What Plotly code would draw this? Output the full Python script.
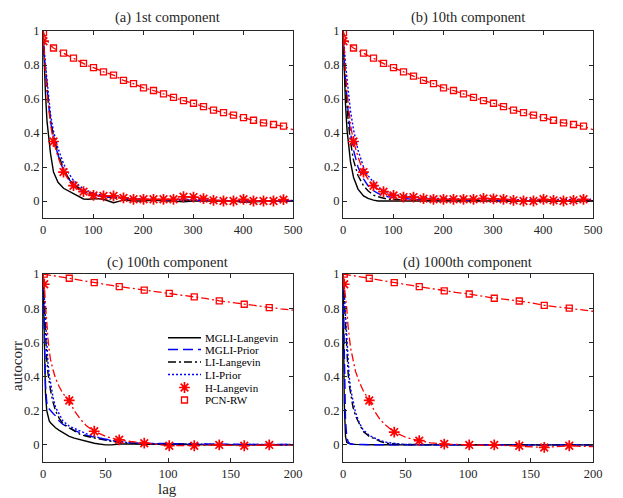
import plotly.graph_objects as go
from plotly.subplots import make_subplots

# ---------------- data ----------------
lags_top = [0, 1, 3, 5, 8, 11, 15, 21, 30, 41, 50, 61, 70, 81, 90, 101, 110, 121, 141, 161, 181,
            201, 221, 241, 261, 281, 301, 321, 341, 361, 381, 401, 421, 441, 461, 481, 500]
lags_bot = [0, 1, 2, 3, 4, 5, 6, 8, 10, 13, 16, 21, 25, 30, 35, 41, 45, 50, 55, 61, 70, 81, 90,
            101, 110, 121, 130, 141, 150, 161, 170, 181, 190, 200]
markers_top = list(range(1, 482, 20))
markers_bot = list(range(1, 182, 20))

# (a) 1st component
a_mgli_lang = [1, 0.9, 0.75, 0.63, 0.47, 0.38, 0.28, 0.17, 0.11, 0.075, 0.06, 0.045, 0.03, 0.012, 0.01, 0.012,
               0.014, 0.01, -0.01, 0.005, 0.0, 0.0, 0.005, 0.0, 0.0, -0.005, 0.0, 0.0, 0.0, -0.003, 0.0,
               -0.008, -0.005, 0.0, 0.0, 0.002, 0.0]
a_mgli_prior = [1, 0.92, 0.84, 0.77, 0.66, 0.57, 0.47, 0.37, 0.27, 0.18, 0.135, 0.095, 0.075, 0.055, 0.045,
                0.035, 0.03, 0.025, 0.018, 0.013, 0.01, 0.008, 0.006, 0.005, 0.005, 0.004, 0.003, 0.003,
                0.002, 0.0, 0.0, 0.0, 0.0, 0.0, 0.0, 0.0, 0.0]
a_li_lang = [1, 0.93, 0.85, 0.78, 0.67, 0.58, 0.48, 0.38, 0.28, 0.19, 0.14, 0.1, 0.08, 0.06, 0.05, 0.04,
             0.035, 0.03, 0.02, 0.015, 0.01, 0.008, 0.006, 0.005, 0.005, 0.004, 0.004, 0.003, 0.002, 0.0,
             0.0, 0.0, 0.0, -0.002, 0.0, 0.0, 0.0]
a_li_prior = [1, 0.94, 0.87, 0.8, 0.7, 0.61, 0.51, 0.41, 0.31, 0.22, 0.17, 0.12, 0.095, 0.07, 0.06, 0.045,
              0.04, 0.03, 0.025, 0.02, 0.015, 0.01, 0.01, 0.008, 0.008, 0.01, 0.008, 0.005, 0.004, 0.002,
              0.0, 0.0, 0.0, 0.0, 0.002, 0.003, 0.003]
a_h_lang = [1, 0.94, 0.85, 0.76, 0.64, 0.54, 0.45, 0.35, 0.26, 0.17, 0.13, 0.09, 0.07, 0.055, 0.042, 0.033,
            0.03, 0.03, 0.03, 0.018, 0.01, 0.01, 0.01, 0.01, 0.01, 0.025, 0.023, 0.014, 0.004, 0.0, 0.0,
            0.01, 0.0, 0.0, 0.0, 0.008, 0.0]
a_pcn = [1.0, 0.99, 0.97, 0.96, 0.945, 0.93, 0.915, 0.9, 0.885, 0.87, 0.855, 0.84, 0.825, 0.81, 0.795,
         0.785, 0.772, 0.76, 0.74, 0.71, 0.69, 0.665, 0.65, 0.63, 0.61, 0.59, 0.575, 0.555, 0.535, 0.52,
         0.505, 0.49, 0.475, 0.46, 0.45, 0.44, 0.42]

# (b) 10th component
b_mgli_lang = [1, 0.88, 0.7, 0.57, 0.42, 0.32, 0.23, 0.14, 0.07, 0.03, 0.015, 0.005, 0.0, 0.0, 0.0, 0.0,
               0.0, 0.0, 0.0, 0.0, 0.0, 0.0, 0.0, 0.0, 0.0, 0.0, 0.0, 0.0, 0.0, 0.0, 0.0, 0.0, 0.0, 0.0,
               0.0, 0.0, 0.0]
b_mgli_prior = [1, 0.91, 0.8, 0.71, 0.59, 0.5, 0.4, 0.3, 0.2, 0.13, 0.09, 0.06, 0.045, 0.03, 0.025, 0.02,
                0.018, 0.015, 0.01, 0.008, 0.006, 0.005, 0.005, 0.004, 0.004, 0.003, 0.003, 0.002, 0.002,
                0.0, 0.0, 0.0, 0.0, 0.0, 0.0, 0.0, 0.0]
b_li_lang = [1, 0.9, 0.78, 0.68, 0.55, 0.45, 0.35, 0.24, 0.15, 0.09, 0.06, 0.035, 0.025, 0.015, 0.01, 0.01,
             0.008, 0.006, 0.005, 0.005, 0.004, 0.004, 0.003, 0.003, 0.002, 0.002, 0.002, 0.0, 0.0, 0.0,
             0.0, 0.0, 0.0, 0.0, 0.0, 0.0, 0.0]
b_li_prior = [1, 0.95, 0.88, 0.81, 0.72, 0.63, 0.53, 0.42, 0.3, 0.2, 0.15, 0.11, 0.08, 0.06, 0.05, 0.04,
              0.035, 0.03, 0.025, 0.02, 0.015, 0.015, 0.012, 0.012, 0.01, 0.012, 0.01, 0.01, 0.008, 0.006,
              0.006, 0.008, 0.008, 0.006, 0.008, 0.01, 0.01]
b_h_lang = [1, 0.94, 0.85, 0.76, 0.64, 0.54, 0.45, 0.35, 0.26, 0.17, 0.13, 0.09, 0.07, 0.055, 0.042, 0.033,
            0.028, 0.023, 0.023, 0.014, 0.01, 0.01, 0.01, 0.01, 0.01, 0.015, 0.013, 0.01, 0.004, 0.0, 0.0,
            0.01, 0.004, 0.0, 0.004, 0.01, 0.005]
b_pcn = [1.0, 0.99, 0.97, 0.96, 0.945, 0.93, 0.915, 0.9, 0.885, 0.87, 0.855, 0.84, 0.825, 0.81, 0.795,
         0.785, 0.772, 0.76, 0.735, 0.71, 0.69, 0.665, 0.65, 0.63, 0.61, 0.59, 0.575, 0.555, 0.535, 0.52,
         0.505, 0.49, 0.475, 0.46, 0.45, 0.44, 0.42]

# (c) 100th component
c_mgli_lang = [1, 0.55, 0.3, 0.2, 0.16, 0.14, 0.13, 0.115, 0.1, 0.085, 0.07, 0.05, 0.04, 0.03, 0.02, 0.01,
               0.005, 0.0, 0.0, 0.005, 0.005, 0.005, 0.003, 0.003, 0.002, 0.002, 0.0, 0.0, 0.0, 0.0, 0.0,
               0.0, 0.0, 0.0]
c_mgli_prior = [1, 0.6, 0.35, 0.25, 0.22, 0.21, 0.2, 0.185, 0.17, 0.14, 0.12, 0.1, 0.085, 0.07, 0.055,
                0.045, 0.04, 0.03, 0.025, 0.02, 0.012, 0.008, 0.008, 0.008, 0.006, 0.005, 0.005, 0.004,
                0.004, 0.003, 0.003, 0.003, 0.002, 0.002]
c_li_lang = [1, 0.8, 0.62, 0.5, 0.42, 0.36, 0.32, 0.25, 0.2, 0.155, 0.125, 0.1, 0.08, 0.06, 0.05, 0.04,
             0.035, 0.025, 0.02, 0.015, 0.01, 0.005, 0.005, 0.004, 0.003, 0.003, 0.002, 0.002, 0.0, 0.0,
             0.0, 0.0, 0.0, 0.0]
c_li_prior = [1, 0.85, 0.7, 0.58, 0.48, 0.41, 0.36, 0.28, 0.22, 0.175, 0.14, 0.11, 0.095, 0.08, 0.065,
              0.05, 0.04, 0.03, 0.025, 0.02, 0.012, 0.008, 0.006, 0.005, 0.005, 0.004, 0.004, 0.003,
              0.003, 0.002, 0.002, 0.002, 0.002, 0.002]
c_h_lang = [1, 0.94, 0.82, 0.7, 0.62, 0.55, 0.5, 0.44, 0.39, 0.34, 0.3, 0.26, 0.2, 0.15, 0.11, 0.08, 0.065,
            0.05, 0.04, 0.03, 0.02, 0.01, 0.003, -0.005, -0.004, -0.005, -0.002, 0.0, -0.003, -0.005,
            -0.002, 0.0, 0.0, 0.0]
c_pcn = [1.0, 0.999, 0.998, 0.997, 0.996, 0.995, 0.994, 0.992, 0.99, 0.986, 0.982, 0.975, 0.97, 0.963,
         0.957, 0.95, 0.945, 0.939, 0.933, 0.926, 0.916, 0.906, 0.897, 0.887, 0.877, 0.866, 0.857, 0.843,
         0.834, 0.823, 0.814, 0.803, 0.796, 0.789]

# (d) 1000th component
d_mgli_lang = [1, 0.25, 0.05, 0.015, 0.01, 0.008, 0.005, 0.004, 0.003, 0.002, 0.002, 0.002, 0.001, 0.001,
               0.0, 0.0, 0.0, 0.0, 0.0, 0.0, 0.0, 0.0, 0.0, 0.0, 0.0, 0.0, 0.0, 0.0, 0.0, 0.0, 0.0, 0.0,
               0.0, 0.0]
d_mgli_prior = [1, 0.5, 0.15, 0.05, 0.02, 0.01, 0.005, 0.003, 0.002, 0.002, 0.002, 0.001, 0.001, 0.001,
                0.0, 0.0, 0.0, 0.0, 0.0, 0.0, 0.0, 0.0, 0.0, 0.0, 0.0, 0.0, 0.0, 0.0, 0.0, 0.0, 0.0, 0.0,
                0.0, 0.0]
d_li_lang = [1, 0.85, 0.7, 0.55, 0.43, 0.35, 0.3, 0.22, 0.17, 0.12, 0.08, 0.05, 0.035, 0.02, 0.01, 0.005,
             0.003, 0.002, 0.002, 0.001, 0.0, 0.0, 0.0, 0.0, 0.0, 0.0, 0.0, 0.0, 0.0, 0.0, 0.0, 0.0, 0.0,
             0.0]
d_li_prior = [1, 0.88, 0.75, 0.6, 0.48, 0.4, 0.33, 0.25, 0.19, 0.13, 0.09, 0.055, 0.04, 0.025, 0.015,
              0.008, 0.005, 0.003, 0.002, 0.002, 0.001, 0.0, 0.0, 0.0, 0.0, 0.0, 0.0, 0.0, 0.0, 0.0, 0.0,
              0.0, 0.0, 0.0]
d_h_lang = [1, 0.94, 0.87, 0.8, 0.7, 0.62, 0.57, 0.5, 0.43, 0.37, 0.32, 0.26, 0.2, 0.145, 0.11, 0.075,
            0.06, 0.045, 0.035, 0.025, 0.012, 0.005, 0.003, 0.0, -0.002, 0.0, -0.003, -0.005, -0.01,
            -0.015, -0.01, -0.005, -0.008, -0.01]
d_pcn = [1.0, 0.999, 0.998, 0.997, 0.996, 0.995, 0.994, 0.992, 0.99, 0.986, 0.982, 0.975, 0.97, 0.963,
         0.957, 0.95, 0.945, 0.939, 0.933, 0.926, 0.915, 0.901, 0.893, 0.883, 0.872, 0.858, 0.852, 0.842,
         0.832, 0.817, 0.81, 0.8, 0.791, 0.782]

titles = ["(a) 1st component", "(b) 10th component", "(c) 100th component", "(d) 1000th component"]
series_names = ["MGLI-Langevin", "MGLI-Prior", "LI-Langevin", "LI-Prior", "H-Langevin", "PCN-RW"]

# ---------------- figure ----------------
FONT = "Liberation Serif"
AXC = "#262626"
W, H = 623, 498
OFF = 8  # page margin of the browser body


def fx(px):
    return (px - OFF) / W


def fy(py):
    return 1 - (py - OFF) / H


fig = make_subplots(rows=2, cols=2)

panels = [
    (1, 1, lags_top, markers_top, [a_mgli_lang, a_mgli_prior, a_li_lang, a_li_prior, a_h_lang, a_pcn]),
    (1, 2, lags_top, markers_top, [b_mgli_lang, b_mgli_prior, b_li_lang, b_li_prior, b_h_lang, b_pcn]),
    (2, 1, lags_bot, markers_bot, [c_mgli_lang, c_mgli_prior, c_li_lang, c_li_prior, c_h_lang, c_pcn]),
    (2, 2, lags_bot, markers_bot, [d_mgli_lang, d_mgli_prior, d_li_lang, d_li_prior, d_h_lang, d_pcn]),
]

line_styles = [
    dict(color="black", dash="solid", width=1.4),
    dict(color="#0000ff", dash="10px,5px", width=1.4),
    dict(color="black", dash="8px,3px,2px,3px", width=1.4),
    dict(color="#0000ff", dash="2px,2px", width=1.4),
    dict(color="#ff0000", dash="8px,3px,2px,3px", width=1.3),
    dict(color="#ff0000", dash="8px,3px,2px,3px", width=1.3),
]
marker_styles = {
    4: dict(symbol="asterisk-open", size=9, color="#ff0000", line=dict(color="#ff0000", width=1.7)),
    5: dict(symbol="square-open", size=6, color="#ff0000", line=dict(color="#ff0000", width=1.3)),
}

for (r, c, lags, mk, vals) in panels:
    for i, v in enumerate(vals):
        fig.add_trace(go.Scatter(x=lags, y=v, mode="lines", line=line_styles[i],
                                 name=series_names[i], showlegend=False), row=r, col=c)
    for i in (4, 5):
        v = vals[i]
        mx = [l for l in lags if l in mk]
        my = [y for l, y in zip(lags, v) if l in mk]
        fig.add_trace(go.Scatter(x=mx, y=my, mode="markers", marker=marker_styles[i],
                                 name=series_names[i], showlegend=False), row=r, col=c)

xdom = [[fx(43), fx(293)], [fx(343), fx(593)]]
ydom = [[fy(218), fy(31)], [fy(462), fy(274)]]

axis_common = dict(showline=True, linecolor=AXC, linewidth=0.8, mirror="allticks",
                   ticks="inside", ticklen=4, tickcolor=AXC, tickwidth=0.8,
                   showgrid=False, zeroline=False, automargin=False,
                   tickfont=dict(family=FONT, size=12.5, color=AXC))

for (r, c, lags, mk, vals) in panels:
    xr = [0, 500] if r == 1 else [0, 200]
    dt = 100 if r == 1 else 50
    fig.update_xaxes(range=xr, dtick=dt, tick0=0, domain=xdom[c - 1], row=r, col=c, **axis_common)
    fig.update_yaxes(range=[-0.1, 1], tickvals=[0, 0.2, 0.4, 0.6, 0.8, 1],
                     ticktext=["0", "0.2", "0.4", "0.6", "0.8", "1"],
                     domain=ydom[r - 1], row=r, col=c, **axis_common)

# ---- legend drawn on a full-page overlay axis (page-pixel coordinates) ----
leg_x0, leg_x1, leg_text_x = 168, 201, 204
leg_rows = [337.7, 349.5, 362, 374.5, 387.5, 400]
for i, name in enumerate(series_names):
    yy = leg_rows[i]
    if i < 4:
        fig.add_trace(go.Scatter(x=[leg_x0, leg_x1], y=[yy, yy], mode="lines", line=line_styles[i],
                                 xaxis="x5", yaxis="y5", showlegend=False, hoverinfo="skip"))
    else:
        fig.add_trace(go.Scatter(x=[(leg_x0 + leg_x1) / 2], y=[yy], mode="markers",
                                 marker=marker_styles[i], xaxis="x5", yaxis="y5",
                                 showlegend=False, hoverinfo="skip"))

fig.update_layout(
    xaxis5=dict(domain=[0, 1], range=[OFF, W + OFF], visible=False, fixedrange=True, anchor="y5"),
    yaxis5=dict(domain=[0, 1], range=[H + OFF, OFF], visible=False, fixedrange=True, anchor="x5"),
)

annotations = []
centers = [((43 + 293) / 2, 17), ((343 + 593) / 2, 17), ((43 + 293) / 2, 262), ((343 + 593) / 2, 262)]
for t, (cx, cy) in zip(titles, centers):
    annotations.append(dict(text=t, x=fx(cx), y=fy(cy), xref="paper", yref="paper", showarrow=False,
                            xanchor="center", yanchor="middle",
                            font=dict(family=FONT, size=14.5, color=AXC)))
for i, name in enumerate(series_names):
    annotations.append(dict(text=name, x=fx(leg_text_x), y=fy(leg_rows[i]), xref="paper",
                            yref="paper", showarrow=False, xanchor="left", yanchor="middle",
                            borderpad=0, font=dict(family=FONT, size=11, color="black")))
annotations.append(dict(text="lag", x=fx((43 + 293) / 2), y=fy(489), xref="paper",
                        yref="paper", showarrow=False, xanchor="center", yanchor="middle",
                        font=dict(family=FONT, size=15, color=AXC)))
annotations.append(dict(text="autocorr", x=fx(17), y=fy(366), xref="paper", yref="paper",
                        showarrow=False, textangle=-90, xanchor="center", yanchor="middle",
                        borderpad=0, font=dict(family=FONT, size=15, color=AXC)))

fig.update_layout(
    width=W, height=H,
    margin=dict(l=0, r=0, t=0, b=0, autoexpand=False),
    paper_bgcolor="white", plot_bgcolor="rgba(0,0,0,0)",
    annotations=annotations,
    showlegend=False,
    font=dict(family=FONT),
)

fig.write_html("out.html")
